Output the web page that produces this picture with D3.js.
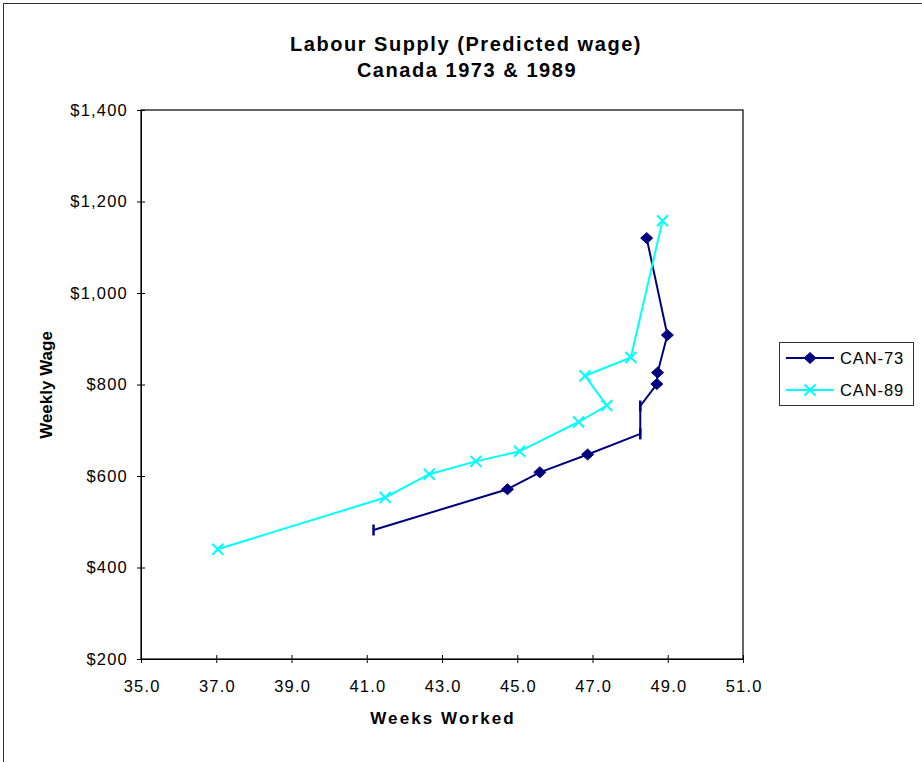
<!DOCTYPE html>
<html><head><meta charset="utf-8">
<script src="https://cdn.jsdelivr.net/npm/d3@7/dist/d3.min.js"></script>
<style>body{margin:0;background:#fff;}svg{display:block;font-family:"Liberation Sans",Arial,sans-serif;}</style>
</head><body>
<script>
const seriesNames = ["CAN-73", "CAN-89"];
const can73Weeks = [41.18, 44.74, 45.60, 46.87, 48.27, 48.27, 48.71, 48.73, 48.99, 48.44];
const can73Wage  = [482, 571, 608, 647, 692, 753, 801, 826, 908, 1120];
const can73Marker = ["bar","diamond","diamond","diamond","bar","bar","diamond","diamond","diamond","diamond"];
const can89Weeks = [37.04, 41.49, 42.66, 43.90, 45.06, 46.63, 47.38, 46.80, 48.02, 48.86];
const can89Wage  = [440, 553, 604, 632, 654, 718, 754, 819, 859, 1158];
const xTicks = [35, 37, 39, 41, 43, 45, 47, 49, 51];
const yTicks = [200, 400, 600, 800, 1000, 1200, 1400];

const W = 922, H = 762;
const svg = d3.select("body").append("svg").attr("width", W).attr("height", H);
svg.append("rect").attr("x", 3.5).attr("y", 3.5).attr("width", W + 10).attr("height", H + 10)
  .attr("fill", "none").attr("stroke", "#333").attr("stroke-width", 1);

const x = d3.scaleLinear().domain([35, 51]).range([141, 743]);
const y = d3.scaleLinear().domain([200, 1400]).range([659, 110]);

// plot border
svg.append("rect").attr("x", 141).attr("y", 110).attr("width", 602).attr("height", 549)
  .attr("fill", "none").attr("stroke", "#000").attr("stroke-width", 1.2);

// axes
const yAxis = d3.axisLeft(y).tickValues(yTicks).tickSizeInner(4).tickSizeOuter(0)
  .tickFormat(d => "$" + d3.format(",")(d)).tickPadding(10);
const gy = svg.append("g").attr("transform", "translate(141,0)").call(yAxis);
gy.attr("font-family", null);
gy.select(".domain").attr("stroke", "#000");
gy.selectAll(".tick line").attr("x1", -4).attr("x2", 4).attr("stroke", "#000");
gy.selectAll(".tick text").attr("font-size", 16.5).attr("letter-spacing", 1.2).attr("fill", "#000").attr("x", -13);

const xAxis = d3.axisBottom(x).tickValues(xTicks).tickSizeInner(4).tickSizeOuter(0)
  .tickFormat(d3.format(".1f")).tickPadding(12);
const gx = svg.append("g").attr("transform", "translate(0,659)").call(xAxis);
gx.attr("font-family", null);
gx.select(".domain").attr("stroke", "#000");
gx.selectAll(".tick line").attr("y1", -4).attr("y2", 4).attr("stroke", "#000");
gx.selectAll(".tick text").attr("font-size", 16.5).attr("letter-spacing", 1.2).attr("fill", "#000").attr("y", 21).attr("dx", 0.6);

// titles
svg.append("text").attr("x", 466).attr("y", 51).attr("text-anchor", "middle")
  .attr("font-size", 20).attr("font-weight", "bold").attr("letter-spacing", 1.55).text("Labour Supply (Predicted wage)");
svg.append("text").attr("x", 467).attr("y", 77).attr("text-anchor", "middle")
  .attr("font-size", 20).attr("font-weight", "bold").attr("letter-spacing", 1.55).text("Canada 1973 & 1989");
svg.append("text").attr("x", 443).attr("y", 724).attr("text-anchor", "middle")
  .attr("font-size", 17).attr("font-weight", "bold").attr("letter-spacing", 2.1).text("Weeks Worked");
svg.append("text").attr("transform", "translate(52,385) rotate(-90)").attr("text-anchor", "middle")
  .attr("font-size", 17).attr("font-weight", "bold").text("Weekly Wage");

const navy = "#000080", cyan = "#00FFFF";
const line = d3.line().x(d => x(d[0])).y(d => y(d[1]));
const d73 = can73Weeks.map((w, i) => [w, can73Wage[i], can73Marker[i]]);
const d89 = can89Weeks.map((w, i) => [w, can89Wage[i]]);

svg.append("path").datum(d73).attr("d", line).attr("fill", "none").attr("stroke", navy).attr("stroke-width", 2);
svg.append("path").datum(d89).attr("d", line).attr("fill", "none").attr("stroke", cyan).attr("stroke-width", 2);

function diamond(g, cx, cy, col) {
  g.append("path").attr("d", `M${cx},${cy-5.5}L${cx+6},${cy}L${cx},${cy+5.5}L${cx-6},${cy}Z`).attr("fill", col).attr("stroke", col);
}
function cross(g, cx, cy, col) {
  const s = 5.5;
  g.append("path").attr("d", `M${cx-s},${cy-s}L${cx+s},${cy+s}M${cx+s},${cy-s}L${cx-s},${cy+s}`).attr("stroke", col).attr("stroke-width", 2).attr("fill", "none");
}
const gm = svg.append("g");
d73.forEach(d => {
  if (d[2] === "diamond") diamond(gm, x(d[0]), y(d[1]), navy);
  else gm.append("line").attr("x1", x(d[0])).attr("x2", x(d[0])).attr("y1", y(d[1]) - 5.5).attr("y2", y(d[1]) + 5.5)
    .attr("stroke", navy).attr("stroke-width", 2.5);
});
d89.forEach(d => cross(gm, x(d[0]), y(d[1]), cyan));

// legend
const lg = svg.append("g");
lg.append("rect").attr("x", 779.5).attr("y", 342.5).attr("width", 134).attr("height", 63)
  .attr("fill", "#fff").attr("stroke", "#333").attr("stroke-width", 1);
const ly = [358, 390];
[navy, cyan].forEach((c, i) => {
  lg.append("line").attr("x1", 786).attr("x2", 834).attr("y1", ly[i]).attr("y2", ly[i]).attr("stroke", c).attr("stroke-width", 2);
  if (i === 0) diamond(lg, 810, ly[i], c); else cross(lg, 810, ly[i], c);
  lg.append("text").attr("x", 840).attr("y", ly[i] + 5.5).attr("font-size", 16.5).attr("letter-spacing", 0.9).text(seriesNames[i]);
});
</script>
</body></html>
